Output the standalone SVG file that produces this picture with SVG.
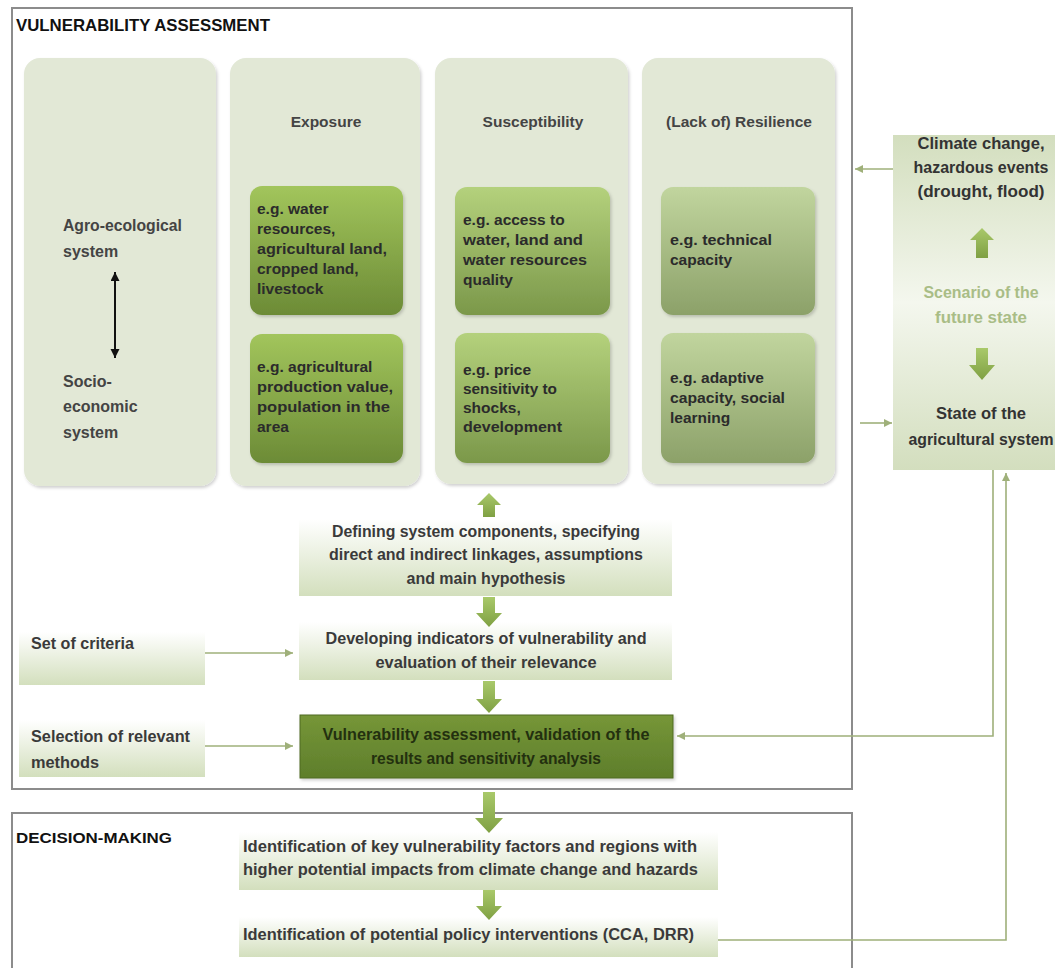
<svg xmlns="http://www.w3.org/2000/svg" width="1055" height="968" viewBox="0 0 1055 968">
<style>
text{font-family:"Liberation Sans",Arial,sans-serif;font-weight:bold;fill:#333}
.title{font-size:16.5px;fill:#111}
.hdr{font-size:15.5px;fill:#444;text-anchor:middle}
.ib{font-size:15.5px;fill:#2b2b2b}
.lc{font-size:16px;fill:#444}
.ct{font-size:16px;fill:#3a3a3a;text-anchor:middle}
.rp{font-size:16px;fill:#333;text-anchor:middle}
.sc{font-size:16px;fill:#a9bd86;text-anchor:middle}
.col{fill:#e2e8d6;filter:url(#sh)}
.flow{fill:url(#gFlow)}
.barrow{fill:url(#gArrow)}
.conn{fill:none;stroke:#9fb07a;stroke-width:1.6}
.frame{fill:none;stroke:#8c8c8c;stroke-width:2}
</style>
<defs>
<filter id="sh" x="-10%" y="-10%" width="120%" height="120%">
<feDropShadow dx="1.5" dy="2" stdDeviation="1.5" flood-color="#000" flood-opacity="0.18"/>
</filter>
<linearGradient id="gFlow" x1="0" y1="0" x2="0" y2="1">
<stop offset="0" stop-color="#ffffff"/><stop offset="1" stop-color="#d3dfbd"/>
</linearGradient>
<linearGradient id="gArrow" x1="0" y1="0" x2="0" y2="1">
<stop offset="0" stop-color="#a9c96a"/><stop offset="1" stop-color="#7fa043"/>
</linearGradient>
<linearGradient id="gE1" x1="0" y1="0" x2="0" y2="1">
<stop offset="0" stop-color="#a2c55c"/><stop offset="1" stop-color="#6c8b36"/>
</linearGradient>
<linearGradient id="gS" x1="0" y1="0" x2="0" y2="1">
<stop offset="0" stop-color="#b4d17c"/><stop offset="1" stop-color="#7b984a"/>
</linearGradient>
<linearGradient id="gR" x1="0" y1="0" x2="0" y2="1">
<stop offset="0" stop-color="#c1d59e"/><stop offset="1" stop-color="#8ca169"/>
</linearGradient>
<linearGradient id="gC" x1="0" y1="0" x2="0" y2="1">
<stop offset="0" stop-color="#769638"/><stop offset="1" stop-color="#5e7e2b"/>
</linearGradient>
<linearGradient id="gRP" x1="0" y1="0" x2="0" y2="1">
<stop offset="0" stop-color="#d3debe"/><stop offset="0.5" stop-color="#f4f7ee"/><stop offset="1" stop-color="#d3debe"/>
</linearGradient>
<marker id="ah" markerUnits="userSpaceOnUse" markerWidth="9" markerHeight="9" refX="8" refY="4" orient="auto">
<path d="M0,0 L8,4 L0,8 z" fill="#9fb07a"/>
</marker>
<marker id="bk" markerUnits="userSpaceOnUse" markerWidth="10" markerHeight="10" refX="9" refY="4.5" orient="auto-start-reverse">
<path d="M0,0 L9,4.5 L0,9 z" fill="#111"/>
</marker>
</defs>

<!-- frames -->
<g id="frame-va">
<rect class="frame" x="12" y="8" width="840" height="781"/>
<text class="title" x="16" y="31" textLength="254" lengthAdjust="spacingAndGlyphs">VULNERABILITY ASSESSMENT</text>
</g>
<g id="frame-dm">
<rect class="frame" x="12" y="813" width="840" height="170"/>
<text class="title" x="16" y="843" style="font-size:15px" textLength="156" lengthAdjust="spacingAndGlyphs">DECISION-MAKING</text>
</g>

<!-- column 1 -->
<g id="systems">
<rect class="col" x="24" y="58" width="192" height="428" rx="16"/>
<text class="lc" x="63" y="231" textLength="119" lengthAdjust="spacingAndGlyphs">Agro-ecological</text>
<text class="lc" x="63" y="257">system</text>
<line x1="115" y1="272" x2="115" y2="358" stroke="#111" stroke-width="2" marker-start="url(#bk)" marker-end="url(#bk)"/>
<text class="lc" x="63" y="387">Socio-</text>
<text class="lc" x="63" y="412">economic</text>
<text class="lc" x="63" y="438">system</text>
</g>

<!-- Exposure -->
<g id="exposure">
<rect class="col" x="230" y="58" width="190" height="428" rx="16"/>
<text class="hdr" x="326" y="127">Exposure</text>
</g>
<g id="exposure-1">
<rect x="250" y="186" width="153" height="129" rx="12" fill="url(#gE1)" filter="url(#sh)"/>
<text class="ib" x="257" y="214">e.g. water</text>
<text class="ib" x="257" y="234">resources,</text>
<text class="ib" x="257" y="254" textLength="130" lengthAdjust="spacingAndGlyphs">agricultural land,</text>
<text class="ib" x="257" y="274">cropped land,</text>
<text class="ib" x="257" y="294">livestock</text>
</g>
<g id="exposure-2">
<rect x="250" y="334" width="153" height="129" rx="12" fill="url(#gE1)" filter="url(#sh)"/>
<text class="ib" x="257" y="372">e.g. agricultural</text>
<text class="ib" x="257" y="392" textLength="136" lengthAdjust="spacingAndGlyphs">production value,</text>
<text class="ib" x="257" y="412" textLength="133" lengthAdjust="spacingAndGlyphs">population in the</text>
<text class="ib" x="257" y="432">area</text>
</g>

<!-- Susceptibility -->
<g id="susceptibility">
<rect class="col" x="435" y="58" width="193" height="426" rx="16"/>
<text class="hdr" x="533" y="127">Susceptibility</text>
</g>
<g id="susceptibility-1">
<rect x="455" y="187" width="155" height="128" rx="12" fill="url(#gS)" filter="url(#sh)"/>
<text class="ib" x="463" y="225">e.g. access to</text>
<text class="ib" x="463" y="245" textLength="120" lengthAdjust="spacingAndGlyphs">water, land and</text>
<text class="ib" x="463" y="265" textLength="124" lengthAdjust="spacingAndGlyphs">water resources</text>
<text class="ib" x="463" y="285">quality</text>
</g>
<g id="susceptibility-2">
<rect x="455" y="333" width="155" height="130" rx="12" fill="url(#gS)" filter="url(#sh)"/>
<text class="ib" x="463" y="375">e.g. price</text>
<text class="ib" x="463" y="394" textLength="94" lengthAdjust="spacingAndGlyphs">sensitivity to</text>
<text class="ib" x="463" y="413">shocks,</text>
<text class="ib" x="463" y="432" textLength="99" lengthAdjust="spacingAndGlyphs">development</text>
</g>

<!-- Resilience -->
<g id="resilience">
<rect class="col" x="642" y="58" width="193" height="426" rx="16"/>
<text class="hdr" x="739" y="127" textLength="146" lengthAdjust="spacingAndGlyphs">(Lack of) Resilience</text>
</g>
<g id="resilience-1">
<rect x="661" y="187" width="154" height="128" rx="12" fill="url(#gR)" filter="url(#sh)"/>
<text class="ib" x="670" y="245" textLength="102" lengthAdjust="spacingAndGlyphs">e.g. technical</text>
<text class="ib" x="670" y="265">capacity</text>
</g>
<g id="resilience-2">
<rect x="661" y="333" width="154" height="130" rx="12" fill="url(#gR)" filter="url(#sh)"/>
<text class="ib" x="670" y="383">e.g. adaptive</text>
<text class="ib" x="670" y="403" textLength="115" lengthAdjust="spacingAndGlyphs">capacity, social</text>
<text class="ib" x="670" y="423">learning</text>
</g>

<!-- right panel -->
<g id="scenario">
<rect x="893" y="135" width="162" height="335" fill="url(#gRP)"/>
<text class="rp" x="981" y="149" textLength="127" lengthAdjust="spacingAndGlyphs">Climate change,</text>
<text class="rp" x="981" y="173" textLength="135" lengthAdjust="spacingAndGlyphs">hazardous events</text>
<text class="rp" x="981" y="197" textLength="127" lengthAdjust="spacingAndGlyphs">(drought, flood)</text>
<path class="barrow" d="M982,228 L994,240 L988,240 L988,258 L976,258 L976,240 L970,240 Z"/>
<text class="sc" x="981" y="298" textLength="115" lengthAdjust="spacingAndGlyphs">Scenario of the</text>
<text class="sc" x="981" y="323" textLength="92" lengthAdjust="spacingAndGlyphs">future state</text>
<path class="barrow" d="M976,348 L988,348 L988,365 L995,365 L982,380 L969,365 L976,365 Z"/>
<text class="rp" x="981" y="419" textLength="90" lengthAdjust="spacingAndGlyphs">State of the</text>
<text class="rp" x="981" y="445" textLength="145" lengthAdjust="spacingAndGlyphs">agricultural system</text>
</g>

<!-- flow boxes -->
<g id="defining">
<rect class="flow" x="299" y="519" width="373" height="77"/>
<text class="ct" x="486" y="537" textLength="308" lengthAdjust="spacingAndGlyphs">Defining system components, specifying</text>
<text class="ct" x="486" y="560" textLength="314" lengthAdjust="spacingAndGlyphs">direct and indirect linkages, assumptions</text>
<text class="ct" x="486" y="584" textLength="159" lengthAdjust="spacingAndGlyphs">and main hypothesis</text>
</g>
<g id="indicators">
<rect class="flow" x="299" y="622" width="373" height="58"/>
<text class="ct" x="486" y="644" textLength="321" lengthAdjust="spacingAndGlyphs">Developing indicators of vulnerability and</text>
<text class="ct" x="486" y="668" textLength="221" lengthAdjust="spacingAndGlyphs">evaluation of their relevance</text>
</g>
<g id="assessment">
<rect x="300" y="715" width="373" height="63" fill="url(#gC)" stroke="#4f6b23" stroke-width="1" filter="url(#sh)"/>
<text class="ct" x="486" y="740" style="fill:#23300f" textLength="327" lengthAdjust="spacingAndGlyphs">Vulnerability assessment, validation of the</text>
<text class="ct" x="486" y="764" style="fill:#23300f" textLength="230" lengthAdjust="spacingAndGlyphs">results and sensitivity analysis</text>
</g>
<g id="criteria">
<rect class="flow" x="19" y="632" width="186" height="53"/>
<text class="lc" x="31" y="649" style="fill:#3a3a3a" textLength="103" lengthAdjust="spacingAndGlyphs">Set of criteria</text>
</g>
<g id="methods">
<rect class="flow" x="19" y="720" width="186" height="57"/>
<text class="lc" x="31" y="742" style="fill:#3a3a3a" textLength="159" lengthAdjust="spacingAndGlyphs">Selection of relevant</text>
<text class="lc" x="31" y="768" style="fill:#3a3a3a" textLength="68" lengthAdjust="spacingAndGlyphs">methods</text>
</g>
<g id="key-factors">
<rect class="flow" x="239" y="832" width="479" height="58"/>
<text class="ct" x="243" y="852" style="text-anchor:start" textLength="454" lengthAdjust="spacingAndGlyphs">Identification of key vulnerability factors and regions with</text>
<text class="ct" x="243" y="875" style="text-anchor:start" textLength="455" lengthAdjust="spacingAndGlyphs">higher potential impacts from climate change and hazards</text>
</g>
<g id="policy">
<rect class="flow" x="239" y="917" width="479" height="40"/>
<text class="ct" x="243" y="940" style="text-anchor:start" textLength="451" lengthAdjust="spacingAndGlyphs">Identification of potential policy interventions (CCA, DRR)</text>
</g>

<!-- connectors -->
<g id="connectors">
<path class="barrow" d="M489,493 L501,505 L495,505 L495,517 L483,517 L483,505 L477,505 Z"/>
<path class="barrow" d="M483,597 L495,597 L495,613 L502,613 L489,627 L476,613 L483,613 Z"/>
<path class="barrow" d="M483,681 L495,681 L495,699 L502,699 L489,713 L476,699 L483,699 Z"/>
<path class="barrow" d="M483,792 L495,792 L495,818 L503,818 L489,833 L475,818 L483,818 Z"/>
<path class="barrow" d="M483,890 L495,890 L495,906 L502,906 L489,920 L476,906 L483,906 Z"/>
<line class="conn" x1="893" y1="169" x2="855" y2="169" marker-end="url(#ah)"/>
<line class="conn" x1="860" y1="423" x2="892" y2="423" marker-end="url(#ah)"/>
<line class="conn" x1="205" y1="653" x2="293" y2="653" marker-end="url(#ah)"/>
<line class="conn" x1="205" y1="746" x2="293" y2="746" marker-end="url(#ah)"/>
<polyline class="conn" points="993,470 993,736 677,736" marker-end="url(#ah)"/>
<polyline class="conn" points="718,940 1006,940 1006,473" marker-end="url(#ah)"/>
</g>
</svg>
